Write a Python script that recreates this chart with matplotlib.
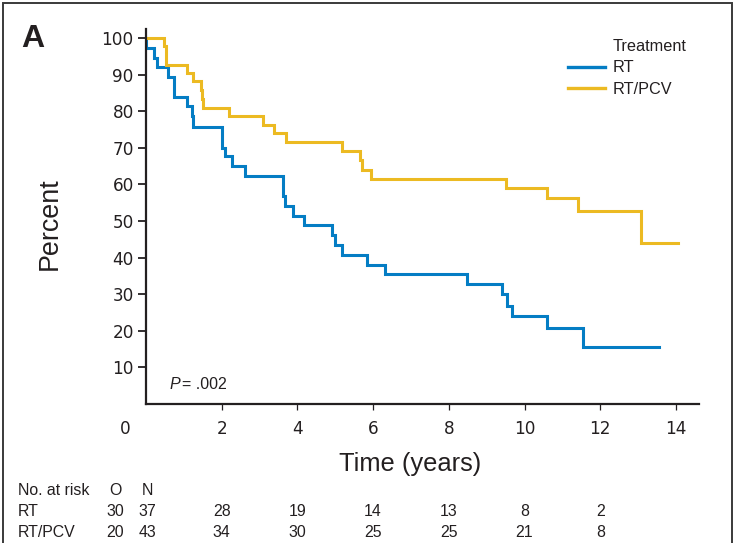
import matplotlib
matplotlib.use("Agg")
import matplotlib.pyplot as plt
from matplotlib import font_manager
from matplotlib.font_manager import FontProperties
from matplotlib.transforms import blended_transform_factory
from matplotlib.lines import Line2D
from matplotlib.patches import Rectangle

# ---------------- data ----------------
rt_time = [0.0, 0.01, 0.21, 0.28, 0.59, 0.75, 1.08, 1.21, 1.25, 2.00, 2.09, 2.26,
           2.62, 3.62, 3.68, 3.88, 4.17, 4.91, 4.99, 5.17, 5.85, 6.31, 8.49, 9.40,
           9.55, 9.67, 10.59, 11.55, 13.56]
rt_surv = [100.0, 97.3, 94.5, 92.0, 89.3, 83.9, 81.3, 78.6, 75.8, 69.9, 67.7, 64.9,
           62.2, 56.7, 54.0, 51.3, 48.8, 46.1, 43.5, 40.8, 38.1, 35.4, 32.7, 30.0,
           26.9, 24.0, 20.8, 15.6, 15.6]

pcv_time = [0.0, 0.48, 0.53, 1.08, 1.25, 1.45, 1.47, 1.51, 2.20, 3.08, 3.39, 3.69,
            5.19, 5.65, 5.70, 5.94, 9.51, 10.59, 11.41, 13.08, 14.06]
pcv_surv = [100.0, 97.7, 92.7, 90.4, 88.3, 85.9, 83.4, 81.0, 78.8, 76.3, 74.0, 71.6,
            69.0, 66.6, 64.0, 61.6, 59.1, 56.3, 52.8, 44.0, 44.0]

series_labels = ["RT", "RT/PCV"]
legend_title = "Treatment"
x_ticks = [2, 4, 6, 8, 10, 12, 14]
y_ticks = [10, 20, 30, 40, 50, 60, 70, 80, 90, 100]

risk_header = ["No. at risk", "O", "N"]
risk_times = [2, 4, 6, 8, 10, 12]
rt_O, rt_N = 30, 37
pcv_O, pcv_N = 20, 43
rt_risk = [28, 19, 14, 13, 8, 2]
pcv_risk = [34, 30, 25, 25, 21, 8]

p_value_text = "= .002"

# ---------------- style ----------------
BLUE = "#047DC4"
GOLD = "#ECBA22"
INK = "#231F20"
W, H = 736, 543


def has_font(name):
    try:
        font_manager.findfont(FontProperties(family=name), fallback_to_default=False)
        return True
    except Exception:
        return False


REG = "Liberation Sans" if has_font("Liberation Sans") else "DejaVu Sans"
NARROW_OK = has_font("Liberation Sans Narrow")
NARROW = "Liberation Sans Narrow" if NARROW_OK else REG
nscale = 1.0 if NARROW_OK else 0.82


def fx(x):
    return x / W


def fy(y):
    return 1 - y / H


fig = plt.figure(figsize=(W / 100, H / 100), dpi=100)
fig.patch.set_facecolor("white")

x0, x1, y0, y1 = 146, 699, 404, 29
ax = fig.add_axes([fx(x0), fy(y0), (x1 - x0) / W, (y0 - y1) / H])
ax.set_xlim(0, (x1 - x0) / 37.85)
ax.set_ylim(0, (y0 - y1) / 3.66)

ax.step(rt_time, rt_surv, where="post", color=BLUE, lw=2.2, solid_joinstyle="miter",
        label=series_labels[0])
ax.step(pcv_time, pcv_surv, where="post", color=GOLD, lw=2.2, solid_joinstyle="miter",
        label=series_labels[1])

for s in ["top", "right"]:
    ax.spines[s].set_visible(False)
for s in ["left", "bottom"]:
    ax.spines[s].set_linewidth(1.6)
    ax.spines[s].set_color(INK)

ax.set_xticks(x_ticks)
ax.set_yticks(y_ticks)
ax.tick_params(axis="y", direction="out", length=5.8, width=1.3, color=INK, pad=3,
               labelsize=12.2, labelcolor=INK)
ax.tick_params(axis="x", direction="out", length=4.3, width=0.9, color=INK, pad=7,
               labelsize=12.2, labelcolor=INK)
for lab in ax.get_xticklabels() + ax.get_yticklabels():
    lab.set_fontfamily("DejaVu Sans")

# shared origin label "0"
ax.annotate("0", xy=(0, 0), xycoords="data", xytext=(-21, -24.5),
            textcoords="offset pixels", ha="center", va="center",
            fontsize=12.2, family="DejaVu Sans", color=INK)

ax.set_ylabel("Percent", fontsize=23.6 * nscale, family=NARROW, color=INK)
ax.yaxis.set_label_coords((63 - x0) / (x1 - x0), (y0 - 224) / (y0 - y1))
ax.set_xlabel("Time (years)", fontsize=22.4 * nscale, family=NARROW, color=INK)
ax.xaxis.set_label_coords((410 - x0) / (x1 - x0), (y0 - 452) / (y0 - y1))

# legend: title as an entry with an invisible handle so it aligns with labels
h_blue, h_gold = ax.get_lines()[0], ax.get_lines()[1]
title_handle = Line2D([], [], color="none")
leg = ax.legend([title_handle, h_blue, h_gold], [legend_title] + series_labels,
                loc="upper left", bbox_to_anchor=(fx(568), fy(39)),
                bbox_transform=fig.transFigure, frameon=False, borderpad=0,
                borderaxespad=0, handlelength=2.25, handletextpad=0.52,
                labelspacing=0.40, prop={"family": REG, "size": 11.7})
for t in leg.get_texts():
    t.set_color(INK)
for ln in leg.get_lines():
    ln.set_linewidth(2.4)

# P-value
fig.text(fx(170), fy(389.3), "P", style="italic", fontsize=11.5, family=REG,
         color=INK, va="baseline", ha="left")
fig.text(fx(181.5), fy(389.3), p_value_text, fontsize=11.5, family=REG,
         color=INK, va="baseline", ha="left")

# panel letter
fig.text(fx(21), fy(46.7), "A", fontsize=23, weight="bold", family=REG,
         color=INK, va="baseline", ha="left")

# number-at-risk table
tr = blended_transform_factory(ax.transData, fig.transFigure)
tsize = 14 * nscale
rows_y = [495, 516, 537]
fig.text(fx(18), fy(rows_y[0]), risk_header[0], fontsize=tsize, family=NARROW,
         color=INK, va="baseline", ha="left")
ax.text(-31 / 37.85, fy(rows_y[0]), risk_header[1], transform=tr, fontsize=tsize,
        family=NARROW, color=INK, va="baseline", ha="center")
ax.text(0.03, fy(rows_y[0]), risk_header[2], transform=tr, fontsize=tsize,
        family=NARROW, color=INK, va="baseline", ha="center")

for name, O, N, vals, yy in [(series_labels[0], rt_O, rt_N, rt_risk, rows_y[1]),
                             (series_labels[1], pcv_O, pcv_N, pcv_risk, rows_y[2])]:
    fig.text(fx(18), fy(yy), name, fontsize=tsize, family=NARROW, color=INK,
             va="baseline", ha="left")
    ax.text(-31 / 37.85, fy(yy), str(O), transform=tr, fontsize=tsize,
            family=NARROW, color=INK, va="baseline", ha="center")
    ax.text(0.03, fy(yy), str(N), transform=tr, fontsize=tsize,
            family=NARROW, color=INK, va="baseline", ha="center")
    for t, v in zip(risk_times, vals):
        ax.text(t, fy(yy), str(v), transform=tr, fontsize=tsize, family=NARROW,
                color=INK, va="baseline", ha="center")

# outer frame
fig.patches.append(Rectangle((fx(3), -0.02), (732 - 3) / W, fy(3) + 0.02,
                             transform=fig.transFigure, fill=False,
                             edgecolor="#3a3a3a", lw=1.4))

fig.savefig("out.png", dpi=100)
